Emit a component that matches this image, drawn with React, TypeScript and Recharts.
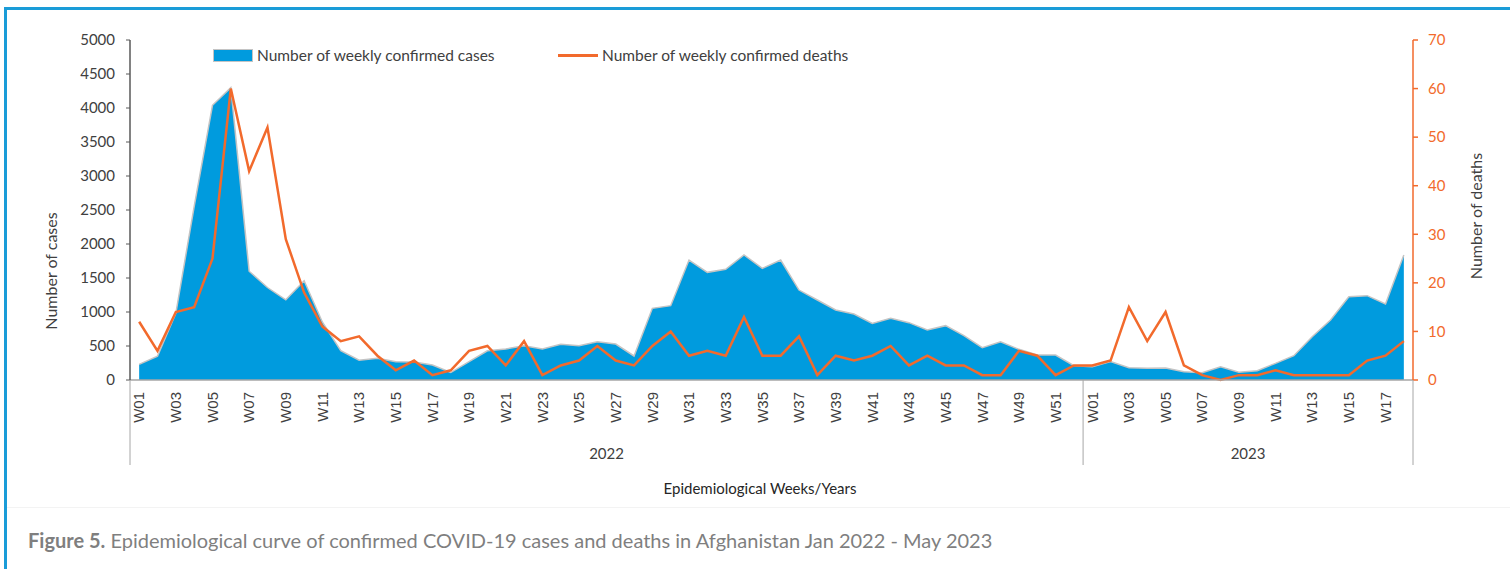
import React from "react";
import { ComposedChart, Area, Line, XAxis, YAxis } from "recharts";

// weekly labels per year
const weeks2022 = [
  "W01", "W02", "W03", "W04", "W05", "W06", "W07", "W08", "W09", "W10", "W11", "W12", "W13",
  "W14", "W15", "W16", "W17", "W18", "W19", "W20", "W21", "W22", "W23", "W24", "W25", "W26",
  "W27", "W28", "W29", "W30", "W31", "W32", "W33", "W34", "W35", "W36", "W37", "W38", "W39",
  "W40", "W41", "W42", "W43", "W44", "W45", "W46", "W47", "W48", "W49", "W50", "W51", "W52",
];
const weeks2023 = [
  "W01", "W02", "W03", "W04", "W05", "W06", "W07", "W08", "W09",
  "W10", "W11", "W12", "W13", "W14", "W15", "W16", "W17", "W18",
];

const cases2022 = [
  230, 350, 980, 2550, 4040, 4300, 1600, 1360, 1180, 1460, 850, 430, 290,
  320, 270, 265, 220, 110, 270, 430, 456, 505, 456, 524, 505, 563,
  529, 353, 1054, 1093, 1764, 1583, 1627, 1838, 1642, 1764, 1323, 1176, 1029,
  970, 833, 907, 843, 735, 799, 652, 476, 563, 451, 367, 367, 211,
];
const cases2023 = [
  196, 270, 181, 172, 176, 123, 108, 196, 113,
  137, 245, 358, 637, 882, 1225, 1240, 1117, 1838,
];

const deaths2022 = [
  12, 6, 14, 15, 25, 60, 43, 52, 29, 18, 11, 8, 9,
  5, 2, 4, 1, 2, 6, 7, 3, 8, 1, 3, 4, 7,
  4, 3, 7, 10, 5, 6, 5, 13, 5, 5, 9, 1, 5,
  4, 5, 7, 3, 5, 3, 3, 1, 1, 6, 5, 1, 3,
];
const deaths2023 = [3, 4, 15, 8, 14, 3, 1, 0, 1, 1, 2, 1, 1, 1, 1, 4, 5, 8];

const caseTicks = [0, 500, 1000, 1500, 2000, 2500, 3000, 3500, 4000, 4500, 5000];
const deathTicks = [0, 10, 20, 30, 40, 50, 60, 70];

const years = [
  { year: "2022", weeks: weeks2022, cases: cases2022, deaths: deaths2022 },
  { year: "2023", weeks: weeks2023, cases: cases2023, deaths: deaths2023 },
];

const data = years.flatMap((y) =>
  y.weeks.map((w, i) => ({
    key: `${y.year}-${w}`,
    week: w,
    year: y.year,
    yearLen: y.weeks.length,
    first: i === 0,
    showLabel: i % 2 === 0,
    cases: y.cases[i],
    deaths: y.deaths[i],
  }))
);

const BLUE = "#009bde";
const ORANGE = "#f26a2c";
const TEXT = "#404040";
const FONT = "Lato, 'Noto Sans', sans-serif";

const WeekTick = (props: any) => {
  const { x, y, payload } = props;
  const i = payload.index;
  const half = payload.offset ?? 0;
  const row = data[i];
  if (!row) return null;
  const isLast = i === data.length - 1;
  return (
    <g>
      {row.showLabel && (
        <text
          transform={`translate(${x},${y + 12}) rotate(-90)`}
          dy="0.35em"
          textAnchor="end"
          fontFamily="'Liberation Sans', Arial, sans-serif"
          fontSize={15}
          fill={TEXT}
        >
          {row.week}
        </text>
      )}
      {row.first && (
        <g>
          <line x1={x - half} x2={x - half} y1={y} y2={y + 85} stroke="#a6a6a6" />
          <text
            x={x - half + row.yearLen * half}
            y={y + 79}
            textAnchor="middle"
            fontFamily={FONT}
            fontSize={15}
            fill={TEXT}
          >
            {row.year}
          </text>
        </g>
      )}
      {isLast && <line x1={x + half} x2={x + half} y1={y} y2={y + 85} stroke="#a6a6a6" />}
    </g>
  );
};

export default function App() {
  return (
    <div
      style={{
        position: "absolute",
        left: 0,
        top: 0,
        width: 1510,
        height: 569,
        background: "#fff",
        fontFamily: FONT,
        overflow: "hidden",
      }}
    >
      {/* frame */}
      <div style={{ position: "absolute", left: 4, top: 7, width: 1506, height: 3, background: "#1a9cd8" }} />
      <div style={{ position: "absolute", left: 4, top: 7, width: 3, height: 562, background: "#1a9cd8" }} />
      <div style={{ position: "absolute", left: 7, top: 507, width: 1503, height: 1, background: "#f3f3f3" }} />

      <div style={{ position: "absolute", left: 0, top: 0 }}>
        <ComposedChart
          width={1510}
          height={569}
          data={data}
          margin={{ top: 40, right: 0, bottom: 99, left: 0 }}
        >
          <XAxis
            dataKey="key"
            scale="band"
            interval={0}
            height={90}
            tickSize={0}
            tickMargin={0}
            tickLine={false}
            axisLine={{ stroke: "#a6a6a6", strokeWidth: 1.5 }}
            tick={<WeekTick />}
          />
          <YAxis
            yAxisId="cases"
            width={130}
            domain={[0, 5000]}
            ticks={caseTicks}
            interval={0}
            tickSize={4}
            tickMargin={11}
            axisLine={{ stroke: "#595959", strokeWidth: 1.5 }}
            tickLine={{ stroke: "#595959" }}
            tick={{ fill: TEXT, fontSize: 15, fontFamily: FONT }}
          />
          <YAxis
            yAxisId="deaths"
            orientation="right"
            width={97}
            domain={[0, 70]}
            ticks={deathTicks}
            interval={0}
            tickSize={5}
            tickMargin={10}
            axisLine={{ stroke: ORANGE, strokeWidth: 1.5 }}
            tickLine={{ stroke: ORANGE, strokeWidth: 1.5 }}
            tick={{ fill: ORANGE, fontSize: 15, fontFamily: FONT }}
          />
          <Area
            yAxisId="cases"
            type="linear"
            dataKey="cases"
            fill={BLUE}
            fillOpacity={1}
            stroke="#c4c4c4"
            strokeWidth={1.5}
            isAnimationActive={false}
          />
          <Line
            yAxisId="deaths"
            type="linear"
            dataKey="deaths"
            stroke={ORANGE}
            strokeWidth={2.5}
            dot={false}
            activeDot={false}
            isAnimationActive={false}
          />
        </ComposedChart>
      </div>

      {/* legend */}
      <div style={{ position: "absolute", left: 213, top: 46, display: "flex", alignItems: "center", color: TEXT, fontSize: 15.5 }}>
        <span style={{ display: "inline-block", width: 38, height: 11, background: BLUE, border: "1px solid #c4c4c4", marginRight: 4 }} />
        <span>Number of weekly confirmed cases</span>
      </div>
      <div style={{ position: "absolute", left: 558, top: 46, display: "flex", alignItems: "center", color: TEXT, fontSize: 15.5 }}>
        <span style={{ display: "inline-block", width: 40, height: 3, background: ORANGE, marginRight: 4 }} />
        <span>Number of weekly confirmed deaths</span>
      </div>

      {/* axis titles */}
      <div
        style={{
          position: "absolute",
          left: 50,
          top: 271,
          transform: "translate(-50%,-50%) rotate(-90deg)",
          whiteSpace: "nowrap",
          color: TEXT,
          fontSize: 16,
        }}
      >
        Number of cases
      </div>
      <div
        style={{
          position: "absolute",
          left: 1475,
          top: 216,
          transform: "translate(-50%,-50%) rotate(-90deg)",
          whiteSpace: "nowrap",
          color: TEXT,
          fontSize: 16,
        }}
      >
        Number of deaths
      </div>
      <div
        style={{
          position: "absolute",
          left: 760,
          top: 488,
          transform: "translate(-50%,-50%)",
          whiteSpace: "nowrap",
          color: "#262626",
          fontSize: 15,
        }}
      >
        Epidemiological Weeks/Years
      </div>

      {/* caption */}
      <div style={{ position: "absolute", left: 28, top: 528, whiteSpace: "nowrap", color: "#7f7f7f", fontSize: 20 }}>
        <b>Figure 5.</b> Epidemiological curve of confirmed COVID-19 cases and deaths in Afghanistan Jan 2022 - May 2023
      </div>
    </div>
  );
}
